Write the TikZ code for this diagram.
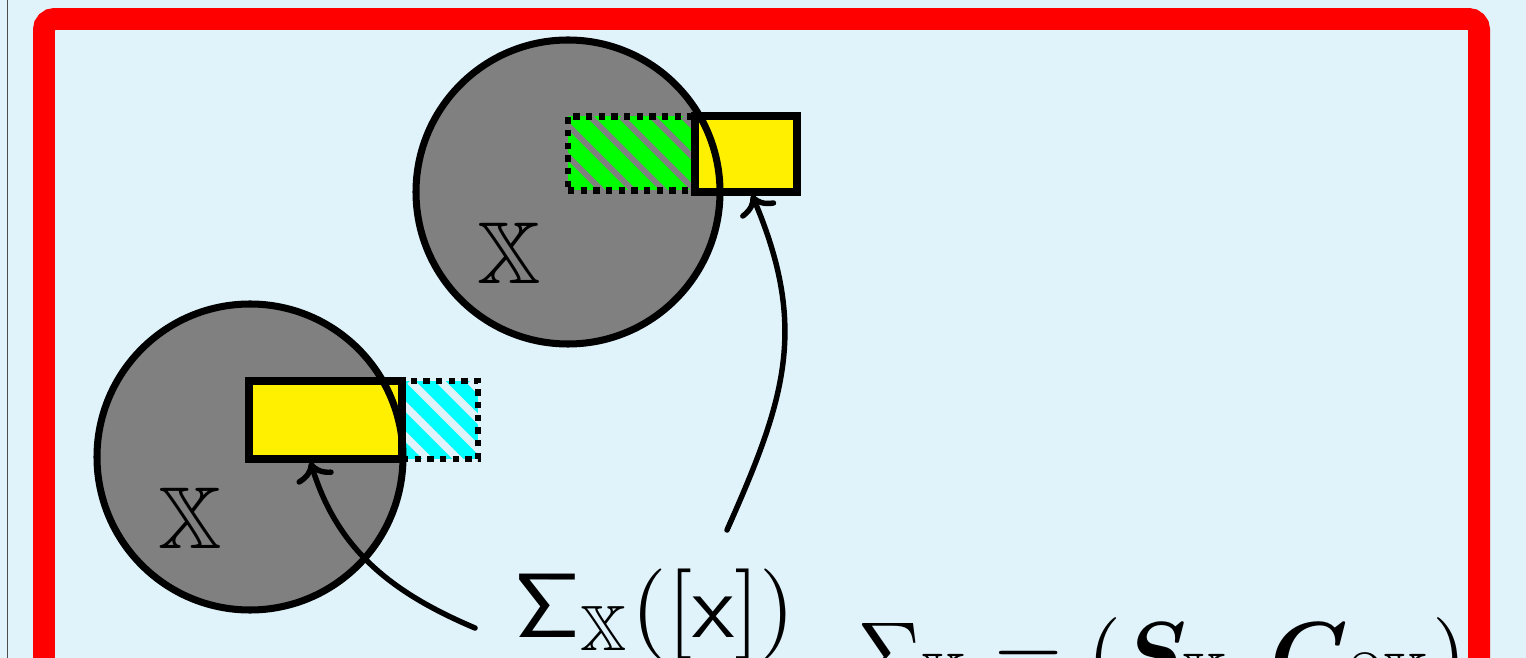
\documentclass[tikz,border=0pt]{standalone}
\usepackage{amsmath,amssymb}
\usepackage{bm}
\usepackage{tikz}
\usetikzlibrary{arrows.meta,positioning,calc}
\usepackage{xcolor}

\definecolor{slidebg}{RGB}{224,243,250}
\definecolor{regiongray}{RGB}{128,128,128}
\definecolor{boxyellow}{RGB}{255,240,0}
\definecolor{boxgreen}{RGB}{0,255,0}
\definecolor{boxcyan}{RGB}{0,255,255}
\definecolor{framered}{RGB}{255,0,0}

\tikzset{
  region/.style={line width=4pt},
  solidbox/.style={draw,line width=4pt,fill=boxyellow,inner sep=0pt,outer sep=0pt},
  dotbox/.style={draw,line width=3.6pt,dash pattern=on 3.6pt off 3.6pt,inner sep=0pt,outer sep=0pt},
  stripe/.style={solid,line width=#1},
  formula/.style={scale=5,inner sep=0pt},
  arr/.style={-{To[round,scale=1.25]},line width=3.1pt,line cap=round}
}

\begin{document}
\begin{tikzpicture}[x=0.2mm,y=-0.2mm]
  \useasboundingbox (0,0) rectangle (1526,658);
  \clip (0,0) rectangle (1526,658);
  \fill[slidebg] (0,0) rectangle (1526,658);
  \draw[gray!60!black,line width=0.9pt] (7.5,0) -- (7.5,658);
  % Two regions
  \fill[regiongray] (568,192) circle (152);
  \fill[regiongray] (250,457) circle (153);
  % Boxes, upper region
  \node[dotbox,fill=boxgreen,minimum width=25.4mm,minimum height=14.8mm,
        path picture={
          \foreach \k in {-71,-40,...,120}
            \draw[regiongray,stripe=3.4pt]
              ([xshift=\k*0.2mm]path picture bounding box.north west) -- ++(100,100);
        }] (gtop) at (631.5,153.5) {};
  \node[solidbox,minimum width=20.4mm,minimum height=15.2mm] (ytop) at (746,154) {};
  % Boxes, lower region
  \node[dotbox,fill=boxcyan,minimum width=15.2mm,minimum height=15.6mm,
        path picture={
          \foreach \k in {-52,-22,...,80}
            \draw[slidebg,stripe=4.3pt]
              ([xshift=\k*0.2mm]path picture bounding box.north west) -- ++(100,100);
        }] (cbot) at (440,420) {};
  \node[solidbox,minimum width=30.6mm,minimum height=15.6mm] (ybot) at (325.5,420) {};
  % Region outlines
  \draw[region] (568,192) circle (152);
  \draw[region] (250,457) circle (153);
  \node[formula] (xtop) at (509,253) {$\mathbb{X}$};
  \node[formula] (xbot) at (190,518) {$\mathbb{X}$};
  % Frame
  \draw[framered,line width=12.5pt,rounded corners=6pt] (44,19) rectangle (1479,760);
  % Formulas
  \node[formula,scale=1.04,anchor=base west] (sig) at (513,637)
    {$\mathsf{\Sigma}_{\mathbb{X}}([\mathsf{x}])$};
  \node[formula,anchor=base west] (def) at (856,683)
    {$\Sigma_{\mathbb{X}} = (\bm{S}_{\mathbb{X}},\bm{C}_{\partial\mathbb{X}})$};
  % Arrows
  \coordinate (s1) at (475,628);
  \coordinate (s2) at (727,530);
  \draw[arr] (s1) to[out=157,in=-73] ($(ybot.south)+(-15,3)$);
  \draw[arr] (s2) to[out=66,in=-67,looseness=1.1] ($(ytop.south)+(6,3)$);
\end{tikzpicture}
\end{document}
